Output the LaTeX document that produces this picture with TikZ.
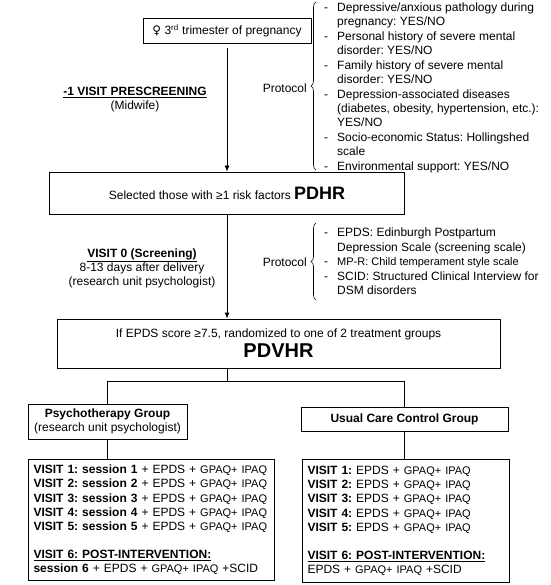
\documentclass[tikz,border=0pt]{standalone}
\usepackage{fontspec}
\setmainfont{Liberation Sans}
\newfontfamily\signfont{DejaVu Sans}
\usetikzlibrary{arrows.meta,decorations.pathreplacing,positioning,calc}
\frenchspacing
\tikzset{
  box/.style={draw,line width=0.8pt,inner sep=0pt,align=center,font=\fontsize{12}{14}\selectfont},
  visitbox/.style={draw,line width=1pt,anchor=north west,inner xsep=5pt,inner ysep=0pt,align=left,font=\fontsize{12}{14.2}\selectfont},
  plain/.style={inner sep=0pt,align=center,font=\fontsize{12}{14}\selectfont},
  conn/.style={line width=0.8pt},
  curly/.style={decorate,decoration={brace,amplitude=5pt},line width=0.6pt},
}
\newcommand{\gpaq}{{\fontsize{11}{14}\selectfont GPAQ+ IPAQ}}
\begin{document}
\begin{tikzpicture}[x=1pt,y=-1pt,>={Latex[length=6pt,width=5pt]}]
\useasboundingbox (0,0) rectangle (550,585);
% boxes down the middle
\node[box,minimum width=168pt,minimum height=25pt] (T) at (227,31) {{\signfont ♀} 3\textsuperscript{rd} trimester of pregnancy};
\node[box,minimum width=355pt,minimum height=42pt] (S) at (227,193) {Selected those with ≥1 risk factors {\fontsize{18}{20}\selectfont\bfseries PDHR}};
\node[box,minimum width=443pt,minimum height=49pt] (R) at (278.5,343.5) {If EPDS score ≥7.5, randomized to one of 2 treatment groups\\[3pt]{\fontsize{20}{22}\selectfont\bfseries PDVHR}};
\node[box,minimum width=159pt,minimum height=35pt] (P) at (107.5,421.5) {\textbf{Psychotherapy Group}\\(research unit psychologist)};
\node[box,minimum width=207pt,minimum height=24pt] (U) at (404.5,419) {\textbf{Usual Care Control Group}};
% visit boxes
\node[visitbox,text width=236pt,minimum height=121pt] (V1) at (28,459) {%
\textbf{VISIT 1: session 1} + EPDS + \gpaq\\
\textbf{VISIT 2: session 2} + EPDS + \gpaq\\
\textbf{VISIT 3: session 3} + EPDS + \gpaq\\
\textbf{VISIT 4: session 4} + EPDS + \gpaq\\
\textbf{VISIT 5: session 5} + EPDS + \gpaq\\[14pt]
\underline{\textbf{VISIT 6: POST-INTERVENTION:}}\\
\textbf{session 6} + EPDS + \gpaq{} +SCID};
\node[visitbox,text width=197pt,minimum height=123pt] (V2) at (302,459) {%
\textbf{VISIT 1:} EPDS + \gpaq\\
\textbf{VISIT 2:} EPDS + \gpaq\\
\textbf{VISIT 3:} EPDS + \gpaq\\
\textbf{VISIT 4:} EPDS + \gpaq\\
\textbf{VISIT 5:} EPDS + \gpaq\\[14pt]
\underline{\textbf{VISIT 6: POST-INTERVENTION:}}\\
EPDS + \gpaq{} +SCID};
% side labels
\node[plain] (M) at (135,100) {\underline{\textbf{-1 VISIT PRESCREENING}}\\(Midwife)};
\node[plain] (Z) at (142,268) {\underline{\textbf{VISIT 0 (Screening)}}\\8-13 days after delivery\\(research unit psychologist)};
\node[plain,anchor=east] (K1) at (307,88) {Protocol};
\node[plain,anchor=east] (K2) at (307,262) {Protocol};
% protocol lists
\node[anchor=base west,inner sep=0pt,font=\fontsize{12}{13.8}\selectfont] (L1) at (324,11.5) {%
\begin{tabular}[t]{@{}l@{\hspace{9pt}}l@{}}
- & Depressive/anxious pathology during\\
  & pregnancy: YES/NO\\[1.4pt]
- & Personal history of severe mental\\
  & disorder: YES/NO\\[1.4pt]
- & Family history of severe mental\\
  & disorder: YES/NO\\[1.4pt]
- & Depression-associated diseases\\
  & (diabetes, obesity, hypertension, etc.):\\
  & YES/NO\\[1.4pt]
- & Socio-economic Status: Hollingshed\\
  & scale\\[1.4pt]
- & Environmental support: YES/NO
\end{tabular}};
\node[anchor=base west,inner sep=0pt,font=\fontsize{12}{14.5}\selectfont] (L2) at (324,236.5) {%
\begin{tabular}[t]{@{}l@{\hspace{9pt}}l@{}}
- & EPDS: Edinburgh Postpartum\\
  & Depression Scale (screening scale)\\
- & {\fontsize{11}{13}\selectfont MP-R: Child temperament style scale}\\
- & SCID: Structured Clinical Interview for\\
  & DSM disorders
\end{tabular}};
% braces
\coordinate (b1) at (316,170);
\coordinate (b2) at (316,2);
\coordinate (b3) at (316,300);
\coordinate (b4) at (316,223);
\draw[curly] (b1) -- (b2);
\draw[curly] (b3) -- (b4);
% connectors
\coordinate (t0) at (227,48);
\coordinate (split) at (227,381);
\draw[conn,->] (t0) -- (t0 |- S.north);
\draw[conn,->] (S) -- (S |- R.north);
\draw[conn] (split |- R.south) -- (split);
\draw[conn] (split) -| (P.north);
\draw[conn] (split) -| (U.north);
\draw[conn] (P) -- (P |- V1.north);
\draw[conn] (U) -- (U |- V2.north);
\end{tikzpicture}
\end{document}
